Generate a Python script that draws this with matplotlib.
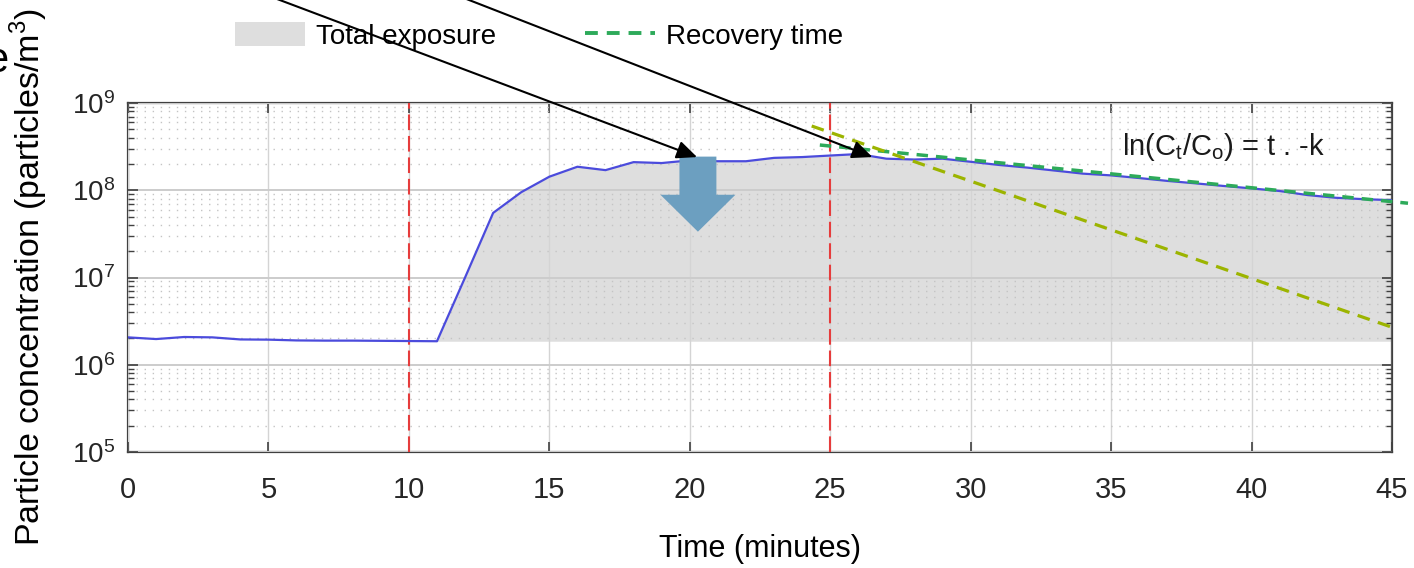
import numpy as np
import matplotlib
matplotlib.use("Agg")
import matplotlib.pyplot as plt
from matplotlib.lines import Line2D
from matplotlib.patches import Patch

plt.rcParams['font.family'] = ['Liberation Sans', 'DejaVu Sans']

# measured particle concentration, one reading per minute
minutes = np.arange(0, 46)
concentration = [
    2.06e6, 1.97e6, 2.08e6, 2.06e6, 1.95e6, 1.94e6, 1.90e6, 1.89e6, 1.89e6, 1.88e6,
    1.87e6, 1.86e6, 1.0e7, 5.5e7, 9.5e7, 1.43e8, 1.86e8, 1.70e8, 2.10e8, 2.05e8,
    2.20e8, 2.15e8, 2.15e8, 2.35e8, 2.40e8, 2.50e8, 2.60e8, 2.30e8, 2.25e8, 2.30e8,
    2.12e8, 1.95e8, 1.82e8, 1.68e8, 1.55e8, 1.48e8, 1.38e8, 1.28e8, 1.20e8, 1.12e8,
    1.05e8, 9.8e7, 8.8e7, 8.2e7, 7.9e7, 7.7e7]
exposure_start = 11

# event markers (minutes)
event_times = [10, 25]

# fitted decay lines
recovery_t = [24.63, 45.57]
recovery_c = [3.3e8, 7.1e7]
steep_t = [24.34, 45.1]
steep_c = [5.45e8, 2.62e6]

# annotation anchors
block_arrow_t = 20.29
block_arrow_c = [2.43e8, 3.35e7]   # tail, tip
pointer_tips = [(20.26, 2.4e8), (26.5, 2.4e8)]
pointer_starts_px = [(200, 598), (392, 598)]

fig = plt.figure(figsize=(14.14, 5.68), dpi=100)
ax = fig.add_axes([128 / 1414, 1 - 452 / 568, 1264 / 1414, 349 / 568])

t = np.array(minutes)
c = np.array(concentration)
base = c[exposure_start]
ax.fill_between(t[exposure_start:], base, c[exposure_start:], color='#dedede',
                linewidth=0, zorder=1)
ax.plot(t, c, color='#4b4bdc', lw=1.6, zorder=4)

for et in event_times:
    ax.axvline(et, color='#e63c3c', lw=1.5, dashes=(7.5, 2.8), zorder=3)

ax.plot(recovery_t, recovery_c, color='#2daa5a', lw=2.5, dashes=(3.3, 2.3),
        zorder=5, clip_on=False)
ax.plot(steep_t, steep_c, color='#9cb400', lw=2.3, dashes=(4.0, 2.7),
        zorder=5, clip_on=False)

ax.set_yscale('log')
ax.set_xlim(0, 45)
ax.set_ylim(1e5, 1e9)
ax.set_xticks(np.arange(0, 46, 5))

ax.set_axisbelow(False)
ax.grid(True, which='major', axis='x', color='#d4d4d4', lw=1.0)
ax.grid(True, which='major', axis='y', color='#cccccc', lw=1.4)
ax.grid(True, which='minor', axis='y', color='#c4c4c4', lw=1.0,
        linestyle=(0, (1, 4.8)))

ax.tick_params(axis='both', which='both', direction='in', top=True, right=True,
               colors='#404040', labelcolor='#262626')
ax.tick_params(axis='x', which='major', length=7, width=1.2, pad=17, labelsize=21)
ax.tick_params(axis='y', which='major', length=7, width=1.2, pad=9, labelsize=20)
ax.tick_params(axis='y', which='minor', length=4, width=1.0)
for sp in ax.spines.values():
    sp.set_color('#404040')
    sp.set_linewidth(1.6)

ax.set_xlabel('Time (minutes)', fontsize=22, labelpad=22)
ax.set_ylabel(r'Particle concentration (particles/m$^\mathregular{3}$)', fontsize=24.5)
ax.yaxis.set_label_coords(-0.062, 0.5)

ax.text(35.4, 3.1e8, r'ln(C$_\mathregular{t}$/C$_\mathregular{o}$) = t . -k',
        fontsize=21, ha='left', va='center', color='#1a1a1a', zorder=6)

# fat down arrow
ax.annotate('', xy=(block_arrow_t, block_arrow_c[1]),
            xytext=(block_arrow_t, block_arrow_c[0]),
            arrowprops=dict(arrowstyle='simple,head_length=26.6,head_width=54,tail_width=26.6',
                            mutation_scale=1, color='#6c9fc0', lw=0,
                            shrinkA=0, shrinkB=0), zorder=6)

# black pointers coming from outside the figure
for tip, start in zip(pointer_tips, pointer_starts_px):
    ax.annotate('', xy=tip, xycoords='data', xytext=start,
                textcoords='figure pixels', annotation_clip=False,
                arrowprops=dict(arrowstyle='-|>,head_length=0.95,head_width=0.42',
                                mutation_scale=13, color='black', lw=1.5,
                                shrinkA=0, shrinkB=0), zorder=7)

handles = [Patch(facecolor='#dedede', edgecolor='none', label='Total exposure'),
           Line2D([], [], color='#2daa5a', lw=2.8, dashes=(3.3, 2.3), label='Recovery time')]
fig.legend(handles=handles, loc='center left', bbox_to_anchor=(235 / 1414, 1 - 36 / 568),
           ncol=2, frameon=False, fontsize=20, handlelength=2.52, handleheight=0.9,
           handletextpad=0.4, columnspacing=3.2, borderpad=0, borderaxespad=0)

# remnant glyph cut at the left edge
fig.text(8 / 1414, 1 - 72 / 568, 'e', fontsize=30, ha='right', va='baseline')

fig.savefig('out.png', dpi=100)
